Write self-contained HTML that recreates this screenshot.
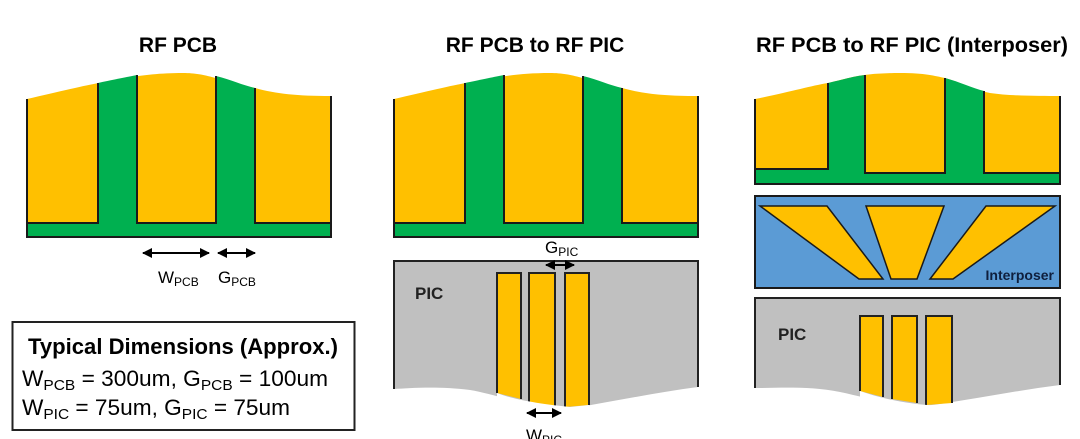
<!DOCTYPE html>
<html><head><meta charset="utf-8"><style>
html,body{margin:0;padding:0;background:#fff;width:1080px;height:439px;overflow:hidden}
svg text{font-family:"Liberation Sans",sans-serif}
</style></head><body>
<svg width="1080" height="439" viewBox="0 0 1080 439" xmlns="http://www.w3.org/2000/svg">
<defs>
<marker id="ah" viewBox="0 0 10 10" refX="9" refY="5" markerWidth="5" markerHeight="5" orient="auto-start-reverse"><path d="M0,0 L10,5 L0,10 z" fill="#000"/></marker>
<g id="pcb">
  <path d="M0,99 C30,92 60,85 72,83 C100,78 120,73 156,73 C180,73 190,80 228,88 C250,94 270,96 304,96 L304,237 L0,237 Z" fill="#ffc000"/>
  <path d="M71,83 C90,79 100,77 110,75 L110,237 L71,237 Z" fill="#00b050"/>
  <path d="M189,76 C205,80 215,85 228,88 L228,237 L189,237 Z" fill="#00b050"/>
  <rect x="0" y="223" width="304" height="14" fill="#00b050"/>
  <g stroke="#1a1a1a" stroke-width="2" fill="none">
    <path d="M0,99 V237 H304 V96"/>
    <path d="M71,83 V223 H0"/>
    <path d="M110,75 V223 H189 V76"/>
    <path d="M228,88 V223 H304"/>
  </g>
</g>
</defs>
<text x="178" y="52" font-size="21" font-weight="bold" text-anchor="middle">RF PCB</text>
<text x="535" y="52" font-size="21" font-weight="bold" text-anchor="middle">RF PCB to RF PIC</text>
<text x="912" y="52" font-size="21" font-weight="bold" text-anchor="middle" textLength="312" lengthAdjust="spacingAndGlyphs">RF PCB to RF PIC (Interposer)</text>

<use href="#pcb" x="27" y="0"/>
<use href="#pcb" x="394" y="0"/>

<g stroke="#000" stroke-width="2">
<line x1="143" y1="253" x2="209" y2="253" marker-start="url(#ah)" marker-end="url(#ah)"/>
<line x1="218" y1="253" x2="255" y2="253" marker-start="url(#ah)" marker-end="url(#ah)"/>
</g>
<text x="158" y="283" font-size="17">W<tspan font-size="12" dy="3">PCB</tspan></text>
<text x="218" y="283" font-size="17">G<tspan font-size="12" dy="3">PCB</tspan></text>

<rect x="12.5" y="322" width="342" height="108" fill="#fff" stroke="#222" stroke-width="2"/>
<text x="183" y="354" font-size="22" font-weight="bold" text-anchor="middle" textLength="310" lengthAdjust="spacingAndGlyphs">Typical Dimensions (Approx.)</text>
<text x="22" y="386" font-size="22" textLength="306" lengthAdjust="spacingAndGlyphs">W<tspan font-size="15" dy="4">PCB</tspan><tspan dy="-4"> = 300um, G</tspan><tspan font-size="15" dy="4">PCB</tspan><tspan dy="-4"> = 100um</tspan></text>
<text x="22" y="415" font-size="22" textLength="268" lengthAdjust="spacingAndGlyphs">W<tspan font-size="15" dy="4">PIC</tspan><tspan dy="-4"> = 75um, G</tspan><tspan font-size="15" dy="4">PIC</tspan><tspan dy="-4"> = 75um</tspan></text>

<path d="M394,261 H698 V387 C660,392 620,400 580,407 C540,412 500,395 470,390 C440,386 410,388 394,389 Z" fill="#c0c0c0"/>
<g stroke="#222" stroke-width="2" fill="none"><path d="M394,389 V261 H698 V387"/></g>
<g fill="#ffc000" stroke="#222" stroke-width="2">
<path d="M497,393 V273 H521 V399"/>
<path d="M529,402 V273 H555 V406"/>
<path d="M565,407 V273 H589 V405"/>
</g>
<path d="M497,393 C510,398 530,403 570,407 L589,405 L589,410 L497,410Z" fill="#fff"/>
<text x="415" y="299" font-size="17" font-weight="bold" fill="#222">PIC</text>
<g stroke="#000" stroke-width="2">
<line x1="546" y1="265" x2="574" y2="265" marker-start="url(#ah)" marker-end="url(#ah)"/>
<line x1="527" y1="413" x2="561" y2="413" marker-start="url(#ah)" marker-end="url(#ah)"/>
</g>
<text x="545" y="253" font-size="17">G<tspan font-size="12" dy="3">PIC</tspan></text>
<text x="526" y="441" font-size="17">W<tspan font-size="12" dy="3">PIC</tspan></text>

<path d="M755,99 C790,92 810,86 828,83 C850,78 860,73 900,73 C925,73 935,76 945,78 C965,84 975,90 990,93 C1010,96 1040,96 1060,96 L1060,184 L755,184 Z" fill="#ffc000"/>
<path d="M828,83 C845,79 855,76 865,75 L865,184 L828,184 Z" fill="#00b050"/>
<path d="M945,78 C960,82 972,88 984,91 L984,184 L945,184 Z" fill="#00b050"/>
<rect x="755" y="169" width="73" height="15" fill="#00b050"/>
<rect x="755" y="173" width="305" height="11" fill="#00b050"/>
<g stroke="#1a1a1a" stroke-width="2" fill="none">
<path d="M755,99 V184 H1060 V96"/>
<path d="M828,83 V169 H755"/>
<path d="M865,75 V173 H945 V78"/>
<path d="M984,91 V173 H1060"/>
</g>

<rect x="755" y="196" width="305" height="92" fill="#5b9bd5" stroke="#1a1a1a" stroke-width="2"/>
<g fill="#ffc000" stroke="#1a1a1a" stroke-width="1.5">
<path d="M760,206 H827 L883,279 H859 Z"/>
<path d="M866,206 H944 L917,279 H891 Z"/>
<path d="M986,206 H1055 L953,279 H930 Z"/>
</g>
<text x="1054" y="280" font-size="14" font-weight="bold" fill="#0f1f3d" text-anchor="end">Interposer</text>

<path d="M755,298 H1060 V385 C1020,390 980,398 940,404 C900,410 870,398 840,392 C810,386 780,388 755,388 Z" fill="#c0c0c0"/>
<g stroke="#222" stroke-width="2" fill="none"><path d="M755,388 V298 H1060 V385"/></g>
<g fill="#ffc000" stroke="#222" stroke-width="2">
<path d="M860,391 V316 H883 V397"/>
<path d="M892,399 V316 H917 V403"/>
<path d="M926,405 V316 H952 V403"/>
</g>
<path d="M860,391 C880,398 905,404 940,406 L952,404 V412 H860Z" fill="#fff"/>
<text x="778" y="340" font-size="17" font-weight="bold" fill="#222">PIC</text>
</svg>
</body></html>
